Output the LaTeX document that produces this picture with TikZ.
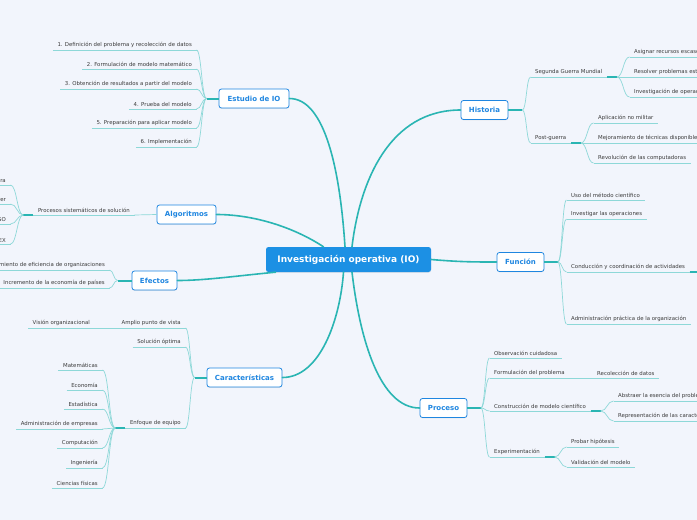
\documentclass[tikz,border=0pt]{standalone}
\usepackage{fontspec}
\setmainfont{DejaVu Sans}
\usetikzlibrary{positioning,calc,shadows}
\definecolor{Paper}{HTML}{F2F5FC}
\definecolor{RootBlue}{HTML}{1C90E4}
\definecolor{TopicBlue}{HTML}{1F86E0}
\definecolor{Teal}{HTML}{2AB5B3}
\definecolor{Twig}{HTML}{8ED8D8}
\definecolor{LeafInk}{HTML}{3B3B3B}
\tikzset{
  root/.style={fill=RootBlue, rounded corners=2.5pt, text=white,
    font=\fontsize{9}{10}\selectfont\bfseries, minimum width=165pt, minimum height=25pt,
    drop shadow={opacity=0.15, shadow xshift=0pt, shadow yshift=-0.8pt}},
  topic/.style={draw=TopicBlue, line width=0.8pt, fill=white, rounded corners=2.5pt,
    text=TopicBlue, font=\fontsize{7}{8}\selectfont\bfseries, minimum height=19pt,
    inner xsep=2pt, drop shadow={opacity=0.15, shadow xshift=0pt, shadow yshift=-0.8pt}},
  leaf/.style={font=\fontsize{5.4}{6.2}\selectfont, text=LeafInk, inner xsep=4.5pt, inner ysep=1.8pt},
  limb/.style={draw=Teal, line width=1.6pt, line cap=round},
  stub/.style={draw=Teal, line width=2pt},
  twig/.style={draw=Twig, line width=0.7pt},
  fan/.style={to path={let \p1=(\tikztostart), \p2=(\tikztotarget) in
    .. controls ({0.5*\x1+0.5*\x2},\y1) and ({0.5*\x1+0.5*\x2},\y2) .. (\tikztotarget)}}
}
% leaf ending at x (left side) / starting at x (right side), underline at y
\newcommand{\LeafL}[4]{%
\node[leaf, anchor=south east] (#1) at (#2,#3) {#4};
\draw[twig] (#1.south west) -- (#1.south east);
}
\newcommand{\LeafR}[4]{%
\node[leaf, anchor=south west] (#1) at (#2,#3) {#4};
\draw[twig] (#1.south west) -- (#1.south east);
}

\begin{document}
\begin{tikzpicture}[x=1pt, y=-1pt]
\fill[Paper] (0,0) rectangle (697,520);
\useasboundingbox (0,0) rectangle (697,520);
\begin{scope}
\clip (0,0) rectangle (697,520);

% Root and topics
\node[root] (io) at (348.5,259.5) {Investigación operativa (IO)};

\node[topic, minimum width=70pt] (est) at (254,98.5) {Estudio de IO};
\node[topic, minimum width=59pt] (alg) at (186.5,214.5) {Algoritmos};
\node[topic, minimum width=45pt] (efe) at (154.5,280.5) {Efectos};
\node[topic, minimum width=75pt] (car) at (244.5,377.5) {Características};
\node[topic, minimum width=47pt] (his) at (484.5,110) {Historia};
\node[topic, minimum width=47pt] (fun) at (520.5,262) {Función};
\node[topic, minimum width=47pt] (pro) at (443.5,408) {Proceso};

% Main limbs
\draw[limb] ([xshift=-3.5pt]io.north) .. controls (340,170) and (325,98.5) .. (est.east);
\draw[limb] ([xshift=3.5pt]io.north) .. controls (360,180) and (390,110) .. (his.west);
\draw[limb] ([xshift=-25pt]io.north) .. controls (295,228) and (255,214.5) .. (alg.east);
\draw[limb] ([xshift=-73pt]io.south) .. controls (235,276) and (205,280.5) .. (efe.east);
\draw[limb] ([xshift=-5pt]io.south) .. controls (340,320) and (320,377.5) .. (car.east);
\draw[limb] ([xshift=3.5pt]io.south) .. controls (360,340) and (380,408) .. (pro.west);
\draw[limb] (io.east) .. controls (460,262) and (475,262) .. (fun.west);

% Estudio de IO
\coordinate (jEst) at ([xshift=-12pt]est.west);
\draw[stub] (est.west) -- (jEst);
\foreach \nm/\y/\txt in {e1/50/{1. Definición del problema y recolección de datos},
    e2/69/{2. Formulación de modelo matemático},
    e3/89/{3. Obtención de resultados a partir del modelo},
    e4/109/{4. Prueba del modelo},
    e5/128/{5. Preparación para aplicar modelo},
    e6/147/{6. Implementación}} {
  \LeafL{\nm}{196.5}{\y}{\txt}
  \draw[twig] (\nm.south east) to[fan] (jEst);
}

% Algoritmos
\LeafL{proc}{134.5}{215}{Procesos sistemáticos de solución}
\draw[twig] (alg.west) -- (proc.south east);
\coordinate (jProc) at ([xshift=-10pt]proc.south west);
\draw[stub] (proc.south west) -- (jProc);
\foreach \nm/\y/\txt in {a1/185/ra, a2/204/rer, a3/224/SO, a4/244/EX} {
  \LeafL{\nm}{10.5}{\y}{\txt}
  \draw[twig] (\nm.south east) to[fan] (jProc);
}

% Efectos
\coordinate (jEfe) at ([xshift=-14pt]efe.west);
\draw[stub] (efe.west) -- (jEfe);
\foreach \nm/\y/\txt in {f1/270/{Mejoramiento de eficiencia de organizaciones},
    f2/288/{Incremento de la economía de países}} {
  \LeafL{\nm}{109.5}{\y}{\txt}
  \draw[twig] (\nm.south east) to[fan] (jEfe);
}

% Caracteristicas
\coordinate (jCar) at ([xshift=-12pt]car.west);
\draw[stub] (car.west) -- (jCar);
\LeafL{amp}{185.5}{328}{Amplio punto de vista}
\LeafL{sol}{185.5}{347}{Solución óptima}
\LeafL{enf}{185.5}{428}{Enfoque de equipo}
\foreach \nm in {amp,sol,enf}
  \draw[twig] (\nm.south east) to[fan] (jCar);
\LeafL{vis}{94.5}{328}{Visión organizacional}
\draw[twig] (amp.south west) -- (vis.south east);
\coordinate (jEnf) at ([xshift=-10pt]enf.south west);
\draw[stub] (enf.south west) -- (jEnf);
\foreach \nm/\y/\txt in {c1/370/Matemáticas, c2/390/Economía, c3/409/Estadística,
    c4/429/{Administración de empresas}, c5/448/Computación, c6/468/Ingeniería,
    c7/488/{Ciencias físicas}} {
  \LeafL{\nm}{102.5}{\y}{\txt}
  \draw[twig] (\nm.south east) to[fan] (jEnf);
}

% Historia
\coordinate (jHis) at ([xshift=14pt]his.east);
\draw[stub] (his.east) -- (jHis);
\LeafR{seg}{530.5}{77}{Segunda Guerra Mundial}
\LeafR{pos}{530.5}{143}{Post-guerra}
\foreach \nm in {seg,pos}
  \draw[twig] (jHis) to[fan] (\nm.south west);
\coordinate (jSeg) at ([xshift=10pt]seg.south east);
\draw[stub] (seg.south east) -- (jSeg);
\foreach \nm/\y/\txt in {h1/57/{Asignar recursos escasos},
    h2/77/{Resolver problemas estratégicos},
    h3/97/{Investigación de operaciones}} {
  \LeafR{\nm}{629.5}{\y}{\txt}
  \draw[twig] (jSeg) to[fan] (\nm.south west);
}
\coordinate (jPos) at ([xshift=10pt]pos.south east);
\draw[stub] (pos.south east) -- (jPos);
\foreach \nm/\y/\txt in {p1/123/{Aplicación no militar},
    p2/143/{Mejoramiento de técnicas disponibles},
    p3/163/{Revolución de las computadoras}} {
  \LeafR{\nm}{593.5}{\y}{\txt}
  \draw[twig] (jPos) to[fan] (\nm.south west);
}

% Funcion
\coordinate (jFun) at ([xshift=13.5pt]fun.east);
\draw[stub] (fun.east) -- (jFun);
\foreach \nm/\y/\txt in {u1/200/{Uso del método científico},
    u2/219/{Investigar las operaciones},
    u3/272/{Conducción y coordinación de actividades},
    u4/324/{Administración práctica de la organización}} {
  \LeafR{\nm}{566.5}{\y}{\txt}
  \draw[twig] (jFun) to[fan] (\nm.south west);
}
\coordinate (jCond) at ([xshift=12pt]u3.south east);
\draw[stub] (u3.south east) -- (jCond);

% Proceso
\coordinate (jPro) at ([xshift=13.5pt]pro.east);
\draw[stub] (pro.east) -- (jPro);
\foreach \nm/\y/\txt in {r1/358/{Observación cuidadosa},
    r2/378/{Formulación del problema},
    r3/411/{Construcción de modelo científico},
    r4/457/{Experimentación}} {
  \LeafR{\nm}{489.5}{\y}{\txt}
  \draw[twig] (jPro) to[fan] (\nm.south west);
}
\LeafR{rec}{592.5}{378}{Recolección de datos}
\draw[twig] (r2.south east) -- (rec.south west);
\coordinate (jCon) at ([xshift=10pt]r3.south east);
\draw[stub] (r3.south east) -- (jCon);
\foreach \nm/\y/\txt in {m1/401/{Abstraer la esencia del problema},
    m2/421/{Representación de las características}} {
  \LeafR{\nm}{613.5}{\y}{\txt}
  \draw[twig] (jCon) to[fan] (\nm.south west);
}
\coordinate (jExp) at ([xshift=10pt]r4.south east);
\draw[stub] (r4.south east) -- (jExp);
\foreach \nm/\y/\txt in {x1/447/{Probar hipótesis}, x2/467/{Validación del modelo}} {
  \LeafR{\nm}{566.5}{\y}{\txt}
  \draw[twig] (jExp) to[fan] (\nm.south west);
}

\end{scope}
\end{tikzpicture}
\end{document}
